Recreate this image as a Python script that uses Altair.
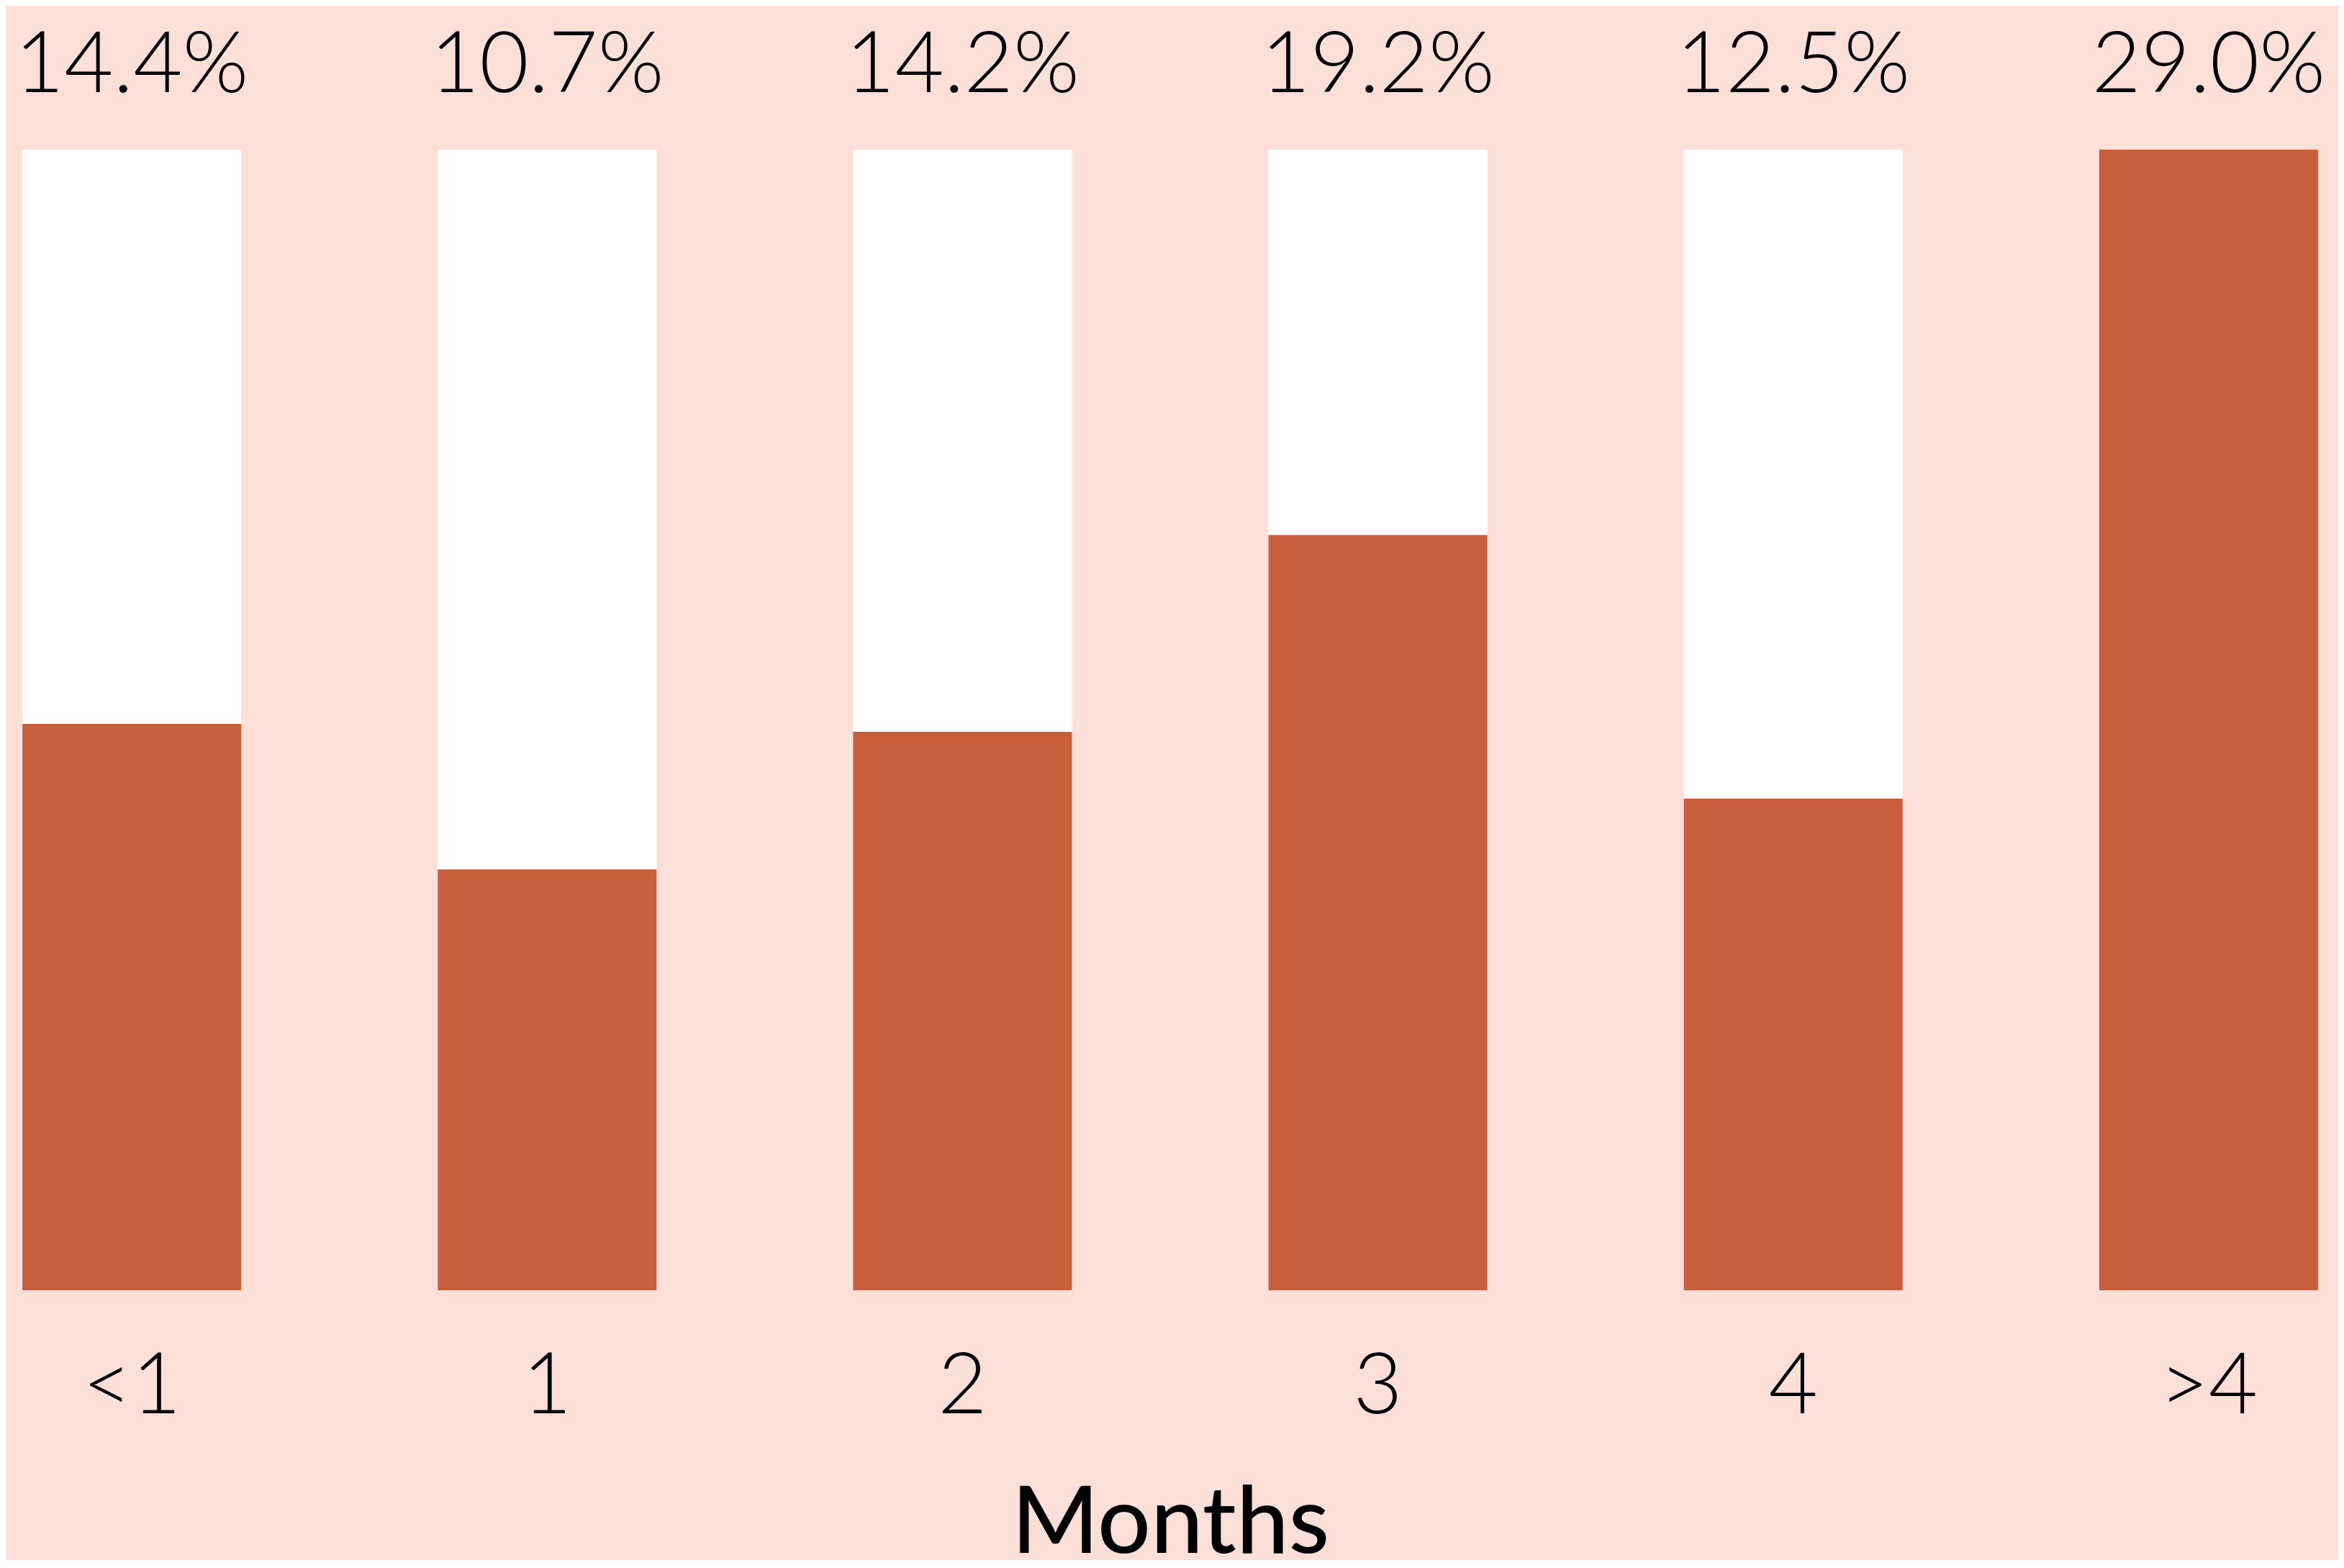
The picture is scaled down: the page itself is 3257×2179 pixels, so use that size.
import altair as alt
import pandas as pd

months = ["<1", "1", "2", "3", "4", ">4"]
shares = [14.4, 10.7, 14.2, 19.2, 12.5, 29.0]
labels = [f"{v:.1f}%" for v in shares]

df = pd.DataFrame({"month": months, "share": shares, "label": labels})

BG = "#FCE0D8"
BAR = "#C95E3D"

x_enc = alt.X(
    "month:N",
    sort=months,
    scale=alt.Scale(paddingInner=0.473, paddingOuter=0.04),
    axis=alt.Axis(
        title="Months",
        labelAngle=0,
        labelFont="Lato",
        labelFontWeight=300,
        labelFontSize=118,
        labelColor="black",
        labelBaseline="alphabetic",
        labelPadding=170,
        ticks=False,
        domain=False,
        grid=False,
        titleFont="Lato",
        titleFontWeight=500,
        titleFontSize=130,
        titleColor="black",
        titleBaseline="alphabetic",
        titleY=364,
    ),
)

base = alt.Chart(df).encode(x=x_enc).transform_joinaggregate(maxv="max(share)")

white = base.mark_bar(color="white").encode(
    y=alt.Y("maxv:Q", scale=alt.Scale(nice=False, zero=True), axis=None)
)
bars = base.mark_bar(color=BAR).encode(y=alt.Y("share:Q"))
text = base.mark_text(
    baseline="alphabetic",
    align="center",
    font="Lato",
    fontWeight=300,
    fontSize=118,
    color="black",
).encode(y=alt.value(-80), text="label:N")

chart = (
    alt.layer(white, bars, text)
    .properties(
        width=3236,
        height=1585,
        padding={"left": 0, "top": 200, "right": 5, "bottom": 375},
        autosize=alt.AutoSizeParams(type="none"),
        background=BG,
    )
    .configure_view(stroke=None)
)

chart.save("out.html", embed_options={"renderer": "svg", "actions": False})
